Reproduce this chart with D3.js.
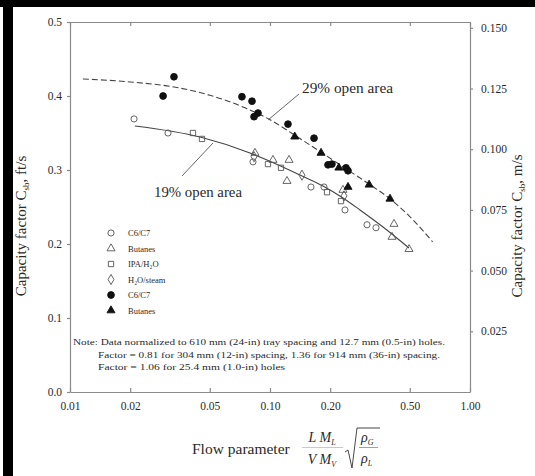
<!DOCTYPE html>
<html><head><meta charset="utf-8">
<script src="https://cdn.jsdelivr.net/npm/d3@7"></script>
<style>
body{margin:0;background:#fff;}
svg, svg text{font-family:"Liberation Serif","Times New Roman","DejaVu Serif","Noto Serif",serif !important;}
</style></head>
<body><svg id="c" width="535" height="476"></svg>
<script>
// ---- data ----
const xTicks = [0.01, 0.02, 0.05, 0.10, 0.20, 0.50, 1.00];
const yTicks = [0.0, 0.1, 0.2, 0.3, 0.4, 0.5];
const yRTicks = [0.025, 0.050, 0.075, 0.100, 0.125, 0.150];

// 29% open area (filled)
const c6c7_29_x = [0.0292, 0.0331, 0.0724, 0.0813, 0.0832, 0.0871, 0.123, 0.166, 0.195, 0.204, 0.240, 0.2455];
const c6c7_29_y = [0.400, 0.426, 0.399, 0.393, 0.372, 0.377, 0.362, 0.343, 0.307, 0.308, 0.303, 0.299];
const but_29_x = [0.133, 0.180, 0.221, 0.2455, 0.313, 0.398];
const but_29_y = [0.345, 0.323, 0.303, 0.277, 0.280, 0.261];

// 19% open area (hollow)
const c6c7_19_x = [0.0209, 0.0309, 0.0822, 0.1603, 0.1862, 0.2371, 0.3055, 0.3388];
const c6c7_19_y = [0.369, 0.350, 0.311, 0.277, 0.277, 0.246, 0.226, 0.222];
const but_19_x = [0.0841, 0.1035, 0.1245, 0.1216, 0.2317, 0.4169, 0.4074, 0.4955];
const but_19_y = [0.323, 0.3135, 0.3135, 0.285, 0.273, 0.227, 0.2095, 0.193];
const ipa_19_x = [0.0412, 0.0457, 0.0977, 0.1135, 0.1928, 0.2265];
const ipa_19_y = [0.350, 0.342, 0.308, 0.303, 0.270, 0.258];
const h2o_19_x = [0.0832, 0.1445, 0.2344];
const h2o_19_y = [0.318, 0.293, 0.265];

// fitted curves
const curve29_x = [0.0116, 0.02, 0.035, 0.05, 0.075, 0.1, 0.133, 0.18, 0.245, 0.313, 0.398, 0.5, 0.65];
const curve29_y = [0.423, 0.419, 0.411, 0.401, 0.384, 0.368, 0.347, 0.324, 0.300, 0.281, 0.261, 0.237, 0.203];
const curve19_x = [0.0211, 0.0447, 0.0794, 0.0966, 0.1413, 0.184, 0.2317, 0.2818, 0.3673, 0.4955];
const curve19_y = [0.3595, 0.3446, 0.323, 0.3135, 0.2932, 0.2784, 0.2622, 0.246, 0.223, 0.1946];

const legendLabels = ["C6/C7", "Butanes", "IPA/H\u2082O", "H\u2082O/steam", "C6/C7", "Butanes"];
const noteLines = [
  "Note: Data normalized to 610 mm (24-in) tray spacing and 12.7 mm (0.5-in) holes.",
  "Factor = 0.81 for 304 mm (12-in) spacing, 1.36 for 914 mm (36-in) spacing.",
  "Factor = 1.06 for 25.4 mm (1.0-in) holes"
];

// ---- drawing ----
const FONT = "Liberation Serif, Times New Roman, DejaVu Serif, serif";
const svg = d3.select("#c").attr("font-family", FONT);
const L = 70, R = 470, T = 22, B = 392;
const x = d3.scaleLog().domain([0.01, 1]).range([L, R]);
const y = d3.scaleLinear().domain([0, 0.5]).range([B, T]);
const yR = d3.scaleLinear().domain([0, 0.5 * 0.3048]).range([B, T]);

const txt = "#2a2a2a", axc = "#8a8a8a";

// scan frame
svg.append("rect").attr("x", 0).attr("y", 0).attr("width", 535).attr("height", 7).attr("fill", "#000");
svg.append("rect").attr("x", 3).attr("y", 0).attr("width", 10).attr("height", 476).attr("fill", "#000");

function styleAxis(g) {
  g.attr("font-family", FONT);
  g.selectAll("path,line").attr("stroke", axc).attr("stroke-width", 1.2);
  g.selectAll("text").attr("fill", txt).attr("font-family", FONT).attr("font-size", 11.5);
}
svg.append("g").attr("transform", `translate(0,${B})`)
  .call(d3.axisBottom(x).tickValues(xTicks).tickFormat(d3.format(".2f")).tickSizeInner(-4).tickSizeOuter(0).tickPadding(10))
  .call(styleAxis);
svg.append("g").attr("transform", `translate(0,${T})`)
  .call(d3.axisTop(x).tickValues(xTicks).tickFormat("").tickSizeInner(-4).tickSizeOuter(0))
  .call(styleAxis);
svg.append("g").attr("transform", `translate(${L},0)`)
  .call(d3.axisLeft(y).tickValues(yTicks).tickFormat(d3.format(".1f")).tickSize(3).tickSizeOuter(0).tickPadding(5))
  .call(styleAxis);
svg.append("g").attr("transform", `translate(${R},0)`)
  .call(d3.axisRight(yR).tickValues(yRTicks).tickFormat(d3.format(".3f")).tickSize(3).tickSizeOuter(0).tickPadding(8))
  .call(styleAxis);

// curves
const line = d3.line().x(d => x(d[0])).y(d => y(d[1])).curve(d3.curveMonotoneX);
svg.append("path").datum(curve29_x.map((v, i) => [v, curve29_y[i]]))
  .attr("d", line).attr("fill", "none").attr("stroke", "#444").attr("stroke-width", 1.1).attr("stroke-dasharray", "6,3");
svg.append("path").datum(curve19_x.map((v, i) => [v, curve19_y[i]]))
  .attr("d", line).attr("fill", "none").attr("stroke", "#444").attr("stroke-width", 1.1);

// markers
const sym = {
  circle: d3.symbol().type(d3.symbolCircle).size(30),
  fcircle: d3.symbol().type(d3.symbolCircle).size(36),
  triangle: d3.symbol().type(d3.symbolTriangle).size(28),
  square: d3.symbol().type(d3.symbolSquare).size(28),
  diamond: d3.symbol().type(d3.symbolDiamond).size(30)
};
const series = [
  {xs: c6c7_19_x, ys: c6c7_19_y, s: "circle", fill: false},
  {xs: but_19_x, ys: but_19_y, s: "triangle", fill: false},
  {xs: ipa_19_x, ys: ipa_19_y, s: "square", fill: false},
  {xs: h2o_19_x, ys: h2o_19_y, s: "diamond", fill: false},
  {xs: c6c7_29_x, ys: c6c7_29_y, s: "fcircle", fill: true},
  {xs: but_29_x, ys: but_29_y, s: "triangle", fill: true}
];
function drawSym(g, s, fill) {
  g.attr("d", sym[s]()).attr("fill", fill ? "#111" : "none")
    .attr("stroke", fill ? "#111" : "#555").attr("stroke-width", 0.9);
}
series.forEach(se => {
  svg.append("g").selectAll("path").data(se.xs.map((v, i) => [v, se.ys[i]])).join("path")
    .attr("transform", d => `translate(${x(d[0])},${y(d[1])})`)
    .call(g => drawSym(g, se.s, se.fill));
});

// legend
const lg = svg.append("g");
series.forEach((se, i) => {
  const yy = 233 + i * 15.5;
  lg.append("path").attr("transform", `translate(111,${yy})`).call(g => drawSym(g, se.s, se.fill));
  lg.append("text").attr("x", 128).attr("y", yy + 3).attr("font-size", 8.5).attr("fill", txt).text(legendLabels[i]);
});

// annotations
svg.append("line").attr("x1", 182).attr("y1", 176).attr("x2", 213).attr("y2", 143).attr("stroke", "#555").attr("stroke-width", 0.9);
svg.append("text").attr("x", 154).attr("y", 197).attr("font-size", 14).attr("fill", txt)
  .attr("textLength", 88).attr("lengthAdjust", "spacingAndGlyphs").text("19% open area");
svg.append("line").attr("x1", 299).attr("y1", 94).attr("x2", 268).attr("y2", 120).attr("stroke", "#555").attr("stroke-width", 0.9);
svg.append("text").attr("x", 302).attr("y", 93).attr("font-size", 14).attr("fill", txt)
  .attr("textLength", 91).attr("lengthAdjust", "spacingAndGlyphs").text("29% open area");

// note
const noteX = [73, 98, 98], noteY = [345, 358, 370], noteW = [372, 342, 187];
noteLines.forEach((t, i) => {
  svg.append("text").attr("x", noteX[i]).attr("y", noteY[i]).attr("font-size", 9).attr("fill", txt)
    .attr("textLength", noteW[i]).attr("lengthAdjust", "spacingAndGlyphs").text(t);
});

// y titles
function yTitle(cx, unit) {
  const t = svg.append("text").attr("transform", `translate(${cx},226) rotate(-90)`)
    .attr("text-anchor", "middle").attr("font-size", 15).attr("fill", txt);
  t.append("tspan").text("Capacity factor C");
  t.append("tspan").attr("font-size", 9).attr("dy", 3).text("sb");
  t.append("tspan").attr("dy", -3).text(", " + unit);
}
yTitle(26, "ft/s");
yTitle(522, "m/s");

// x title
svg.append("text").attr("x", 192).attr("y", 454).attr("font-size", 15.5).attr("fill", txt).text("Flow parameter");
const fr = svg.append("g").attr("fill", txt).attr("font-style", "italic").attr("font-size", 14);
const num = fr.append("text").attr("x", 322).attr("y", 442).attr("text-anchor", "middle");
num.append("tspan").text("L M");
num.append("tspan").attr("font-size", 8).attr("dy", 3).text("L");
const den = fr.append("text").attr("x", 322).attr("y", 464).attr("text-anchor", "middle");
den.append("tspan").text("V M");
den.append("tspan").attr("font-size", 8).attr("dy", 3).text("V");
svg.append("line").attr("x1", 302).attr("x2", 343).attr("y1", 447.5).attr("y2", 447.5).attr("stroke", "#bbb").attr("stroke-width", 0.8);
// radical
svg.append("path").attr("d", "M345,452 L348,450 L352,468 L357,428 L380,428")
  .attr("fill", "none").attr("stroke", "#333").attr("stroke-width", 0.9);
const rg = svg.append("text").attr("x", 361).attr("y", 442).attr("font-size", 14).attr("font-style", "italic").attr("fill", txt);
rg.append("tspan").text("\u03C1");
rg.append("tspan").attr("font-size", 8).attr("dy", 3).text("G");
const rl = svg.append("text").attr("x", 361).attr("y", 463).attr("font-size", 14).attr("font-style", "italic").attr("fill", txt);
rl.append("tspan").text("\u03C1");
rl.append("tspan").attr("font-size", 8).attr("dy", 3).text("L");
svg.append("line").attr("x1", 359).attr("x2", 378).attr("y1", 447.5).attr("y2", 447.5).attr("stroke", "#888").attr("stroke-width", 0.8);
</script></body></html>
